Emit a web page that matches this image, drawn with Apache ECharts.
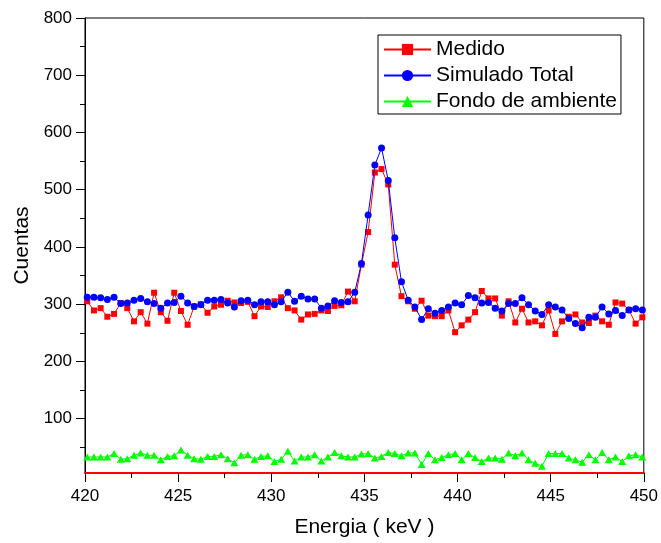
<!DOCTYPE html>
<html>
<head>
<meta charset="utf-8">
<title>Espectro 420-450 keV</title>
<script src="https://cdn.jsdelivr.net/npm/echarts@6/dist/echarts.min.js"></script>
<style>
  html, body { margin: 0; padding: 0; background: #fff; }
  #chart { width: 661px; height: 543px; }
</style>
</head>
<body>
<div id="chart"></div>
<script>
// Energía de cada canal (keV)
const energias = [
  420.12, 420.48, 420.84, 421.20, 421.56, 421.92, 422.27, 422.63, 422.99, 423.35,
  423.71, 424.07, 424.43, 424.79, 425.15, 425.51, 425.86, 426.22, 426.58, 426.94,
  427.30, 427.66, 428.02, 428.38, 428.74, 429.10, 429.45, 429.81, 430.17, 430.53,
  430.89, 431.25, 431.61, 431.97, 432.33, 432.69, 433.04, 433.40, 433.76, 434.12,
  434.48, 434.84, 435.20, 435.56, 435.92, 436.28, 436.63, 436.99, 437.35, 437.71,
  438.07, 438.43, 438.79, 439.15, 439.51, 439.87, 440.22, 440.58, 440.94, 441.30,
  441.66, 442.02, 442.38, 442.74, 443.10, 443.46, 443.81, 444.17, 444.53, 444.89,
  445.25, 445.61, 445.97, 446.33, 446.69, 447.05, 447.40, 447.76, 448.12, 448.48,
  448.84, 449.20, 449.56, 449.92
];

// Cuentas medidas
const medido = [
  305, 289, 293, 278, 283, 302, 293, 270, 286, 266,
  320, 286, 271, 320, 288, 264, 296, 300, 285, 296,
  299, 306, 303, 302, 304, 279, 296, 295, 305, 312,
  293, 289, 273, 282, 283, 289, 288, 297, 298, 322,
  305, 369, 426, 530, 536, 509, 369, 314, 305, 292,
  306, 280, 279, 279, 289, 251, 263, 273, 286, 323,
  310, 310, 280, 305, 268, 292, 268, 270, 263, 289,
  248, 270, 278, 282, 268, 267, 280, 270, 264, 303,
  301, 290, 266, 277
];

// Espectro simulado total
const simulado = [
  312, 312, 311, 308, 312, 301, 302, 307, 310, 304,
  301, 293, 302, 303, 314, 302, 296, 299, 307, 307,
  308, 302, 295, 306, 307, 299, 304, 304, 299, 304,
  321, 305, 314, 309, 309, 293, 297, 306, 303, 304,
  321, 371, 456, 543, 573, 516, 416, 339, 307, 295,
  273, 292, 284, 289, 295, 302, 299, 315, 311, 302,
  303, 293, 288, 301, 301, 311, 299, 288, 282, 299,
  295, 290, 275, 266, 259, 277, 277, 295, 283, 289,
  280, 290, 292, 290
];

// Fondo de ambiente
const fondo = [
  33, 33, 33, 33, 39, 29, 30, 36, 40, 36,
  36, 28, 34, 35, 45, 36, 30, 29, 34, 34,
  37, 30, 23, 36, 37, 29, 34, 35, 25, 29,
  43, 26, 33, 33, 37, 26, 33, 41, 35, 33,
  33, 38, 39, 31, 34, 41, 39, 35, 40, 40,
  20, 39, 28, 32, 37, 39, 28, 39, 32, 25,
  31, 31, 29, 40, 35, 40, 28, 22, 17, 39,
  39, 39, 31, 28, 24, 37, 28, 41, 28, 33,
  25, 35, 37, 33
];

const ticksY = [100, 200, 300, 400, 500, 600, 700, 800];
const ticksYMenores = [50, 150, 250, 350, 450, 550, 650, 750];

const FUENTE = '"Liberation Sans", Arial, sans-serif';
const pares = (vals) => energias.map((e, i) => [e, vals[i]]);

const chart = echarts.init(document.getElementById('chart'), null, { renderer: 'canvas' });

chart.setOption({
  animation: false,
  backgroundColor: '#ffffff',
  textStyle: { fontFamily: FUENTE, color: '#000' },
  grid: {
    left: 85, right: 15, top: 18, bottom: 68.5,
    show: true, borderColor: '#000', borderWidth: 1, backgroundColor: 'transparent'
  },
  legend: {
    orient: 'vertical',
    left: 378, top: 35,
    padding: [4, 4, 2, 5],
    itemWidth: 47, itemHeight: 14, itemGap: 5,
    borderColor: '#000', borderWidth: 1, backgroundColor: '#fff',
    textStyle: { fontSize: 21, lineHeight: 20, color: '#000', fontFamily: FUENTE },
    data: ['Medido', 'Simulado Total', 'Fondo de ambiente']
  },
  xAxis: [
    {
      type: 'value', position: 'bottom',
      min: 420, max: 450, interval: 5,
      axisLine: { show: true, lineStyle: { color: '#ff0000', width: 2 } },
      axisTick: { show: true, inside: false, length: 9, lineStyle: { color: '#000' } },
      axisLabel: { fontSize: 17, color: '#000', margin: 15, fontFamily: FUENTE },
      splitLine: { show: false },
      name: 'Energia ( keV )', nameLocation: 'middle', nameGap: 44,
      nameTextStyle: { fontSize: 21, color: '#000', fontFamily: FUENTE }
    },
    {
      type: 'value', position: 'bottom',
      min: 420, max: 450, interval: 2.5,
      axisLine: { show: false },
      axisTick: { show: true, inside: false, length: 5, lineStyle: { color: '#000' } },
      axisLabel: { show: false },
      splitLine: { show: false }
    }
  ],
  yAxis: [
    {
      type: 'value', position: 'left',
      min: 5, max: 800,
      axisLine: { show: true, lineStyle: { color: '#000', width: 1 } },
      axisTick: { show: true, inside: false, length: 9, customValues: ticksY, lineStyle: { color: '#000' } },
      axisLabel: { fontSize: 17, color: '#000', margin: 13, customValues: ticksY, fontFamily: FUENTE },
      splitLine: { show: false },
      name: 'Cuentas', nameLocation: 'middle', nameGap: 48,
      nameTextStyle: { fontSize: 21, color: '#000', fontFamily: FUENTE }
    },
    {
      type: 'value', position: 'left',
      min: 5, max: 800,
      axisLine: { show: false },
      axisTick: { show: true, inside: false, length: 5, customValues: ticksYMenores, lineStyle: { color: '#000' } },
      axisLabel: { show: false },
      splitLine: { show: false }
    }
  ],
  series: [
    {
      name: 'Medido', type: 'line', z: 3,
      data: pares(medido),
      symbol: 'rect', symbolSize: 6,
      lineStyle: { color: '#ff0000', width: 1 },
      itemStyle: { color: '#ff0000' }
    },
    {
      name: 'Simulado Total', type: 'line', z: 4,
      data: pares(simulado),
      symbol: 'circle', symbolSize: 7,
      lineStyle: { color: '#0000ff', width: 1 },
      itemStyle: { color: '#0000ff' }
    },
    {
      name: 'Fondo de ambiente', type: 'line', z: 2,
      data: pares(fondo),
      symbol: 'triangle', symbolSize: [8, 7],
      lineStyle: { color: '#00ff00', width: 1 },
      itemStyle: { color: '#00ff00' }
    }
  ]
});
</script>
</body>
</html>
